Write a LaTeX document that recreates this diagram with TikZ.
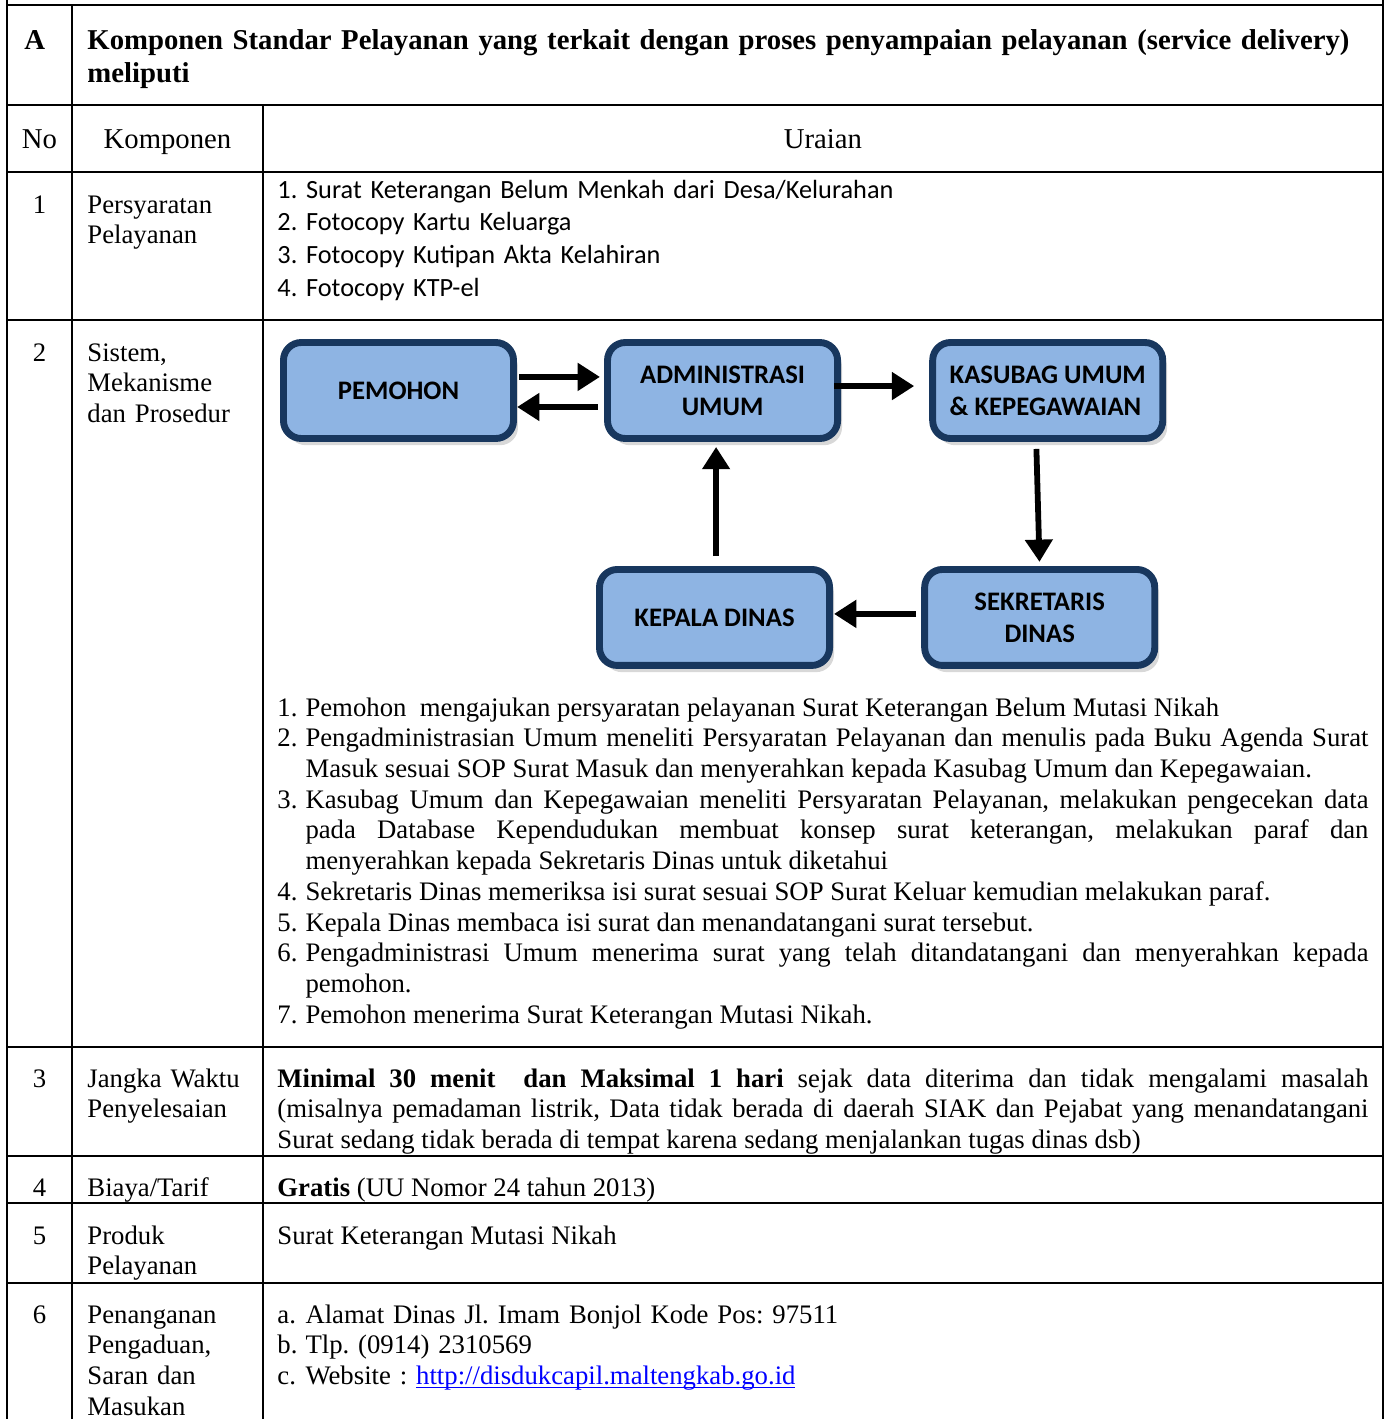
\documentclass[tikz,border=0pt]{standalone}
\usepackage{fontspec}
\setmainfont{Liberation Serif}
\newfontfamily\calibri{Carlito}
\usepackage{tikz}
\usetikzlibrary{positioning,arrows.meta,shadows}
\definecolor{boxfill}{RGB}{142,180,227}
\definecolor{boxline}{RGB}{24,55,94}
\definecolor{linkblue}{RGB}{0,0,255}
\hyphenpenalty=10000
\exhyphenpenalty=10000
\frenchspacing
\newcommand{\stepline}[2]{\noindent\hangindent=12.6pt\hangafter=1\makebox[12.6pt][l]{#1}#2\par}

\begin{document}
\begin{tikzpicture}
[x=0.449pt,y=-0.449pt,>={Triangle[length=10pt,width=12pt]},
rule/.style={line width=1pt},
txt/.style={inner sep=0pt,anchor=base west,font=\fontsize{12}{13.8}\selectfont},
head/.style={txt,font=\fontsize{12.9}{14.95}\selectfont},
para/.style={txt,text width=489.9pt,align=justify},
box/.style={draw=boxline,line width=3.1pt,fill=boxfill,rounded corners=8pt,minimum width=103.3pt,minimum height=43.1pt,inner sep=0pt,outer sep=0pt,align=center,font=\calibri\bfseries\fontsize{12}{14.4}\selectfont,drop shadow={shadow xshift=2pt,shadow yshift=-3pt,fill=black!30,opacity=0.5}},
flow/.style={->,line width=2.6pt,shorten >=3pt,shorten <=3pt}]
\useasboundingbox (0,0) rectangle (1388,1419);

% table
\draw[rule] (7,0) -- (7,1419);
\draw[rule] (1383,0) -- (1383,1419);
\draw[rule] (72,5) -- (72,1419);
\draw[rule] (263,105) -- (263,1419);
\foreach \y in {5,105,172,320,1047,1156,1203,1283}
  \draw[rule] (7,\y) -- (1383,\y);

% header
\node[head,font=\bfseries\fontsize{12.9}{14.95}\selectfont] (hA) at (24,49) {A};
\node[head,font=\bfseries\fontsize{12.9}{14.95}\selectfont,text width=575pt,align=left] (htitle) at (87,49) {Komponen Standar Pelayanan yang terkait dengan proses penyampaian pelayanan (service delivery)\\meliputi};
\node[head,anchor=base] (hno) at (39.5,148) {No};
\node[head,anchor=base] (hkomp) at (167.5,148) {Komponen};
\node[head,anchor=base] (hurai) at (823,148) {Uraian};

\foreach \n/\y in {1/213,2/361,3/1087,4/1196,5/1244,6/1323}
  \node[txt,anchor=base] (no\n) at (39.5,\y) {\n};

\node[txt,text width=80pt,align=left] (komp1) at (87,213) {Persyaratan\\Pelayanan};
\node[txt,text width=80pt,align=left] (komp2) at (87,361) {Sistem,\\Mekanisme\\dan Prosedur};
\node[txt,text width=80pt,align=left] (komp3) at (87,1087) {Jangka Waktu\\Penyelesaian};
\node[txt,text width=80pt,align=left] (komp4) at (87,1196) {Biaya/Tarif};
\node[txt,text width=80pt,align=left] (komp5) at (87,1244) {Produk\\Pelayanan};
\node[txt,text width=80pt,align=left] (komp6) at (87,1323) {Penanganan\\Pengaduan,\\Saran dan\\Masukan};

% row 1
\node[txt,font=\calibri\fontsize{11.8}{14.7}\selectfont,text width=480pt,align=left] (syarat) at (277,198) {1. Surat Keterangan Belum Menkah dari Desa/Kelurahan\\2. Fotocopy Kartu Keluarga\\3. Fotocopy Kutipan Akta Kelahiran\\4. Fotocopy KTP-el};

% row 2: flow
\node[box] (pemohon) at (398.5,390.5) {PEMOHON};
\node[box,right=42.2pt of pemohon] (admin) {ADMINISTRASI\\UMUM};
\node[box,right=42.7pt of admin,align=left] (kasubag) {KASUBAG UMUM\\\& KEPEGAWAIAN};
\node[box,below=58.8pt of kasubag,xshift=-3.6pt] (sekretaris) {SEKRETARIS\\DINAS};
\node[box,left=42.7pt of sekretaris] (kepala) {KEPALA DINAS};

\draw[flow,shorten <=2.5pt,shorten >=3.4pt] ([yshift=6.1pt]pemohon.east) -- ([yshift=6.1pt]admin.west);
\draw[flow,shorten <=4.3pt,shorten >=1.6pt] ([yshift=-7.4pt]admin.west) -- ([yshift=-7.4pt]pemohon.east);
\draw[flow,shorten <=-1.6pt,shorten >=8.3pt] ([yshift=2pt]admin.east) -- ([yshift=2pt]kasubag.west);
\draw[flow,shorten <=4.7pt,shorten >=3.4pt] ([xshift=-5.2pt]kasubag.south) -- (sekretaris.north);
\draw[flow,shorten <=3.8pt,shorten >=2pt] ([yshift=1.6pt]sekretaris.west) -- ([yshift=1.6pt]kepala.east);
\draw[flow,shorten <=6pt,shorten >=3.8pt] ([xshift=0.7pt]kepala.north) -- ([xshift=0.7pt]kepala.north |- admin.south);

\node[para] (steps) at (277,716) {%
\stepline{1.}{Pemohon\ \ mengajukan persyaratan pelayanan Surat Keterangan Belum Mutasi Nikah}%
\stepline{2.}{Pengadministrasian Umum meneliti Persyaratan Pelayanan dan menulis pada Buku Agenda Surat\linebreak Masuk sesuai SOP Surat Masuk dan menyerahkan kepada Kasubag Umum dan Kepegawaian.}%
\stepline{3.}{Kasubag Umum dan Kepegawaian meneliti Persyaratan Pelayanan, melakukan pengecekan data\linebreak pada Database Kependudukan membuat konsep surat keterangan, melakukan paraf dan\linebreak menyerahkan kepada Sekretaris Dinas untuk diketahui}%
\stepline{4.}{Sekretaris Dinas memeriksa isi surat sesuai SOP Surat Keluar kemudian melakukan paraf.}%
\stepline{5.}{Kepala Dinas membaca isi surat dan menandatangani surat tersebut.}%
\stepline{6.}{Pengadministrasi Umum menerima surat yang telah ditandatangani dan menyerahkan kepada\linebreak pemohon.}%
\stepline{7.}{Pemohon menerima Surat Keterangan Mutasi Nikah.}};

% rows 3-6
\node[para] (waktu) at (277,1087) {\textbf{Minimal 30 menit\ \ dan Maksimal 1 hari} sejak data diterima dan tidak mengalami masalah\linebreak (misalnya pemadaman listrik, Data tidak berada di daerah SIAK dan Pejabat yang menandatangani\linebreak Surat sedang tidak berada di tempat karena sedang menjalankan tugas dinas dsb)};
\node[txt] (biaya) at (277,1196) {\textbf{Gratis} (UU Nomor 24 tahun 2013)};
\node[txt] (produk) at (277,1244) {Surat Keterangan Mutasi Nikah};
\node[para,align=left] (aduan) at (277,1323) {%
\stepline{a.}{Alamat Dinas Jl. Imam Bonjol Kode Pos: 97511}%
\stepline{b.}{Tlp. (0914) 2310569}%
\stepline{c.}{Website : \textcolor{linkblue}{\underline{\smash{http://disdukcapil.maltengkab.go.id}}}}};
\end{tikzpicture}
\end{document}
